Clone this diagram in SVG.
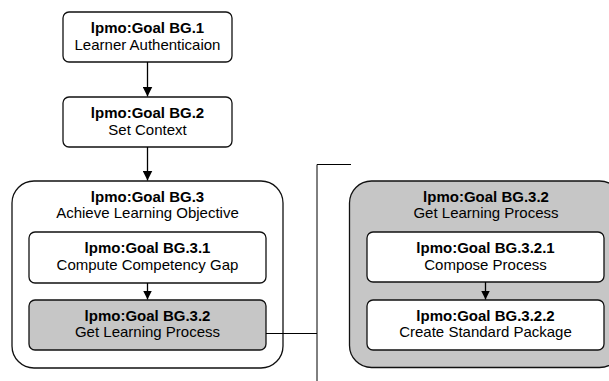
<svg xmlns="http://www.w3.org/2000/svg" width="609" height="381" viewBox="0 0 609 381">
<style>
.box{fill:#fff;stroke:#111;stroke-width:1.3}
.gray{fill:#c6c6c6}
.t{font-family:"Liberation Sans",Arial,sans-serif;font-size:15px;fill:#000;text-anchor:middle}
.b{font-weight:bold}
.ln{stroke:#000;stroke-width:1.3;fill:none}
.conn{stroke:#000;stroke-width:1;fill:none}
</style>
<defs>
<marker id="ah" markerWidth="10" markerHeight="10" refX="10" refY="5" orient="auto" markerUnits="userSpaceOnUse">
<path d="M0,0 L10,5 L0,10 Z" fill="#000"/>
</marker>
<marker id="ahs" markerWidth="9" markerHeight="10" refX="9" refY="5" orient="auto" markerUnits="userSpaceOnUse">
<path d="M0,0.5 L9,5 L0,9.5 Z" fill="#000"/>
</marker>
</defs>
<rect x="0" y="0" width="609" height="381" fill="#fff"/>
<g id="BG1">
<rect class="box" x="63" y="12" width="169" height="50" rx="6"/>
<text class="t b" x="147.5" y="33">lpmo:Goal BG.1</text>
<text class="t" x="147.5" y="50">Learner Authenticaion</text>
</g>
<g id="BG2">
<rect class="box" x="63" y="97" width="169" height="50" rx="6"/>
<text class="t b" x="147.5" y="118">lpmo:Goal BG.2</text>
<text class="t" x="147.5" y="135">Set Context</text>
</g>
<g id="BG3">
<rect class="box" x="12" y="181" width="271" height="187" rx="22"/>
<text class="t b" x="147.5" y="201.5">lpmo:Goal BG.3</text>
<text class="t" x="147.5" y="217.5">Achieve Learning Objective</text>
</g>
<g id="BG3_1">
<rect class="box" x="29" y="232" width="237" height="51" rx="6"/>
<text class="t b" x="147.5" y="253">lpmo:Goal BG.3.1</text>
<text class="t" x="147.5" y="269.5">Compute Competency Gap</text>
</g>
<g id="BG3_2">
<rect class="box gray" x="29" y="300" width="237" height="50" rx="6"/>
<text class="t b" x="147.5" y="320.5">lpmo:Goal BG.3.2</text>
<text class="t" x="147.5" y="337">Get Learning Process</text>
</g>
<g id="BG3_2_detail">
<rect class="box gray" x="349.5" y="181" width="272" height="186.5" rx="22"/>
<text class="t b" x="486" y="202">lpmo:Goal BG.3.2</text>
<text class="t" x="486" y="218">Get Learning Process</text>
</g>
<g id="BG3_2_1">
<rect class="box" x="367" y="232" width="237" height="50" rx="6"/>
<text class="t b" x="485.5" y="253">lpmo:Goal BG.3.2.1</text>
<text class="t" x="485.5" y="269.5">Compose Process</text>
</g>
<g id="BG3_2_2">
<rect class="box" x="367" y="300" width="237" height="50" rx="6"/>
<text class="t b" x="485.5" y="320.5">lpmo:Goal BG.3.2.2</text>
<text class="t" x="485.5" y="337">Create Standard Package</text>
</g>
<g id="connectors">
<line class="ln" x1="147.5" y1="62" x2="147.5" y2="96.5" marker-end="url(#ah)"/>
<line class="ln" x1="147.5" y1="147" x2="147.5" y2="180.5" marker-end="url(#ah)"/>
<line class="ln" x1="147.5" y1="283" x2="147.5" y2="299.5" marker-end="url(#ahs)"/>
<line class="ln" x1="485.5" y1="282" x2="485.5" y2="299.5" marker-end="url(#ahs)"/>
<polyline class="conn" points="266,333.5 317,333.5"/>
<polyline class="conn" points="351,164.5 317,164.5 317,381"/>
</g>
</svg>
